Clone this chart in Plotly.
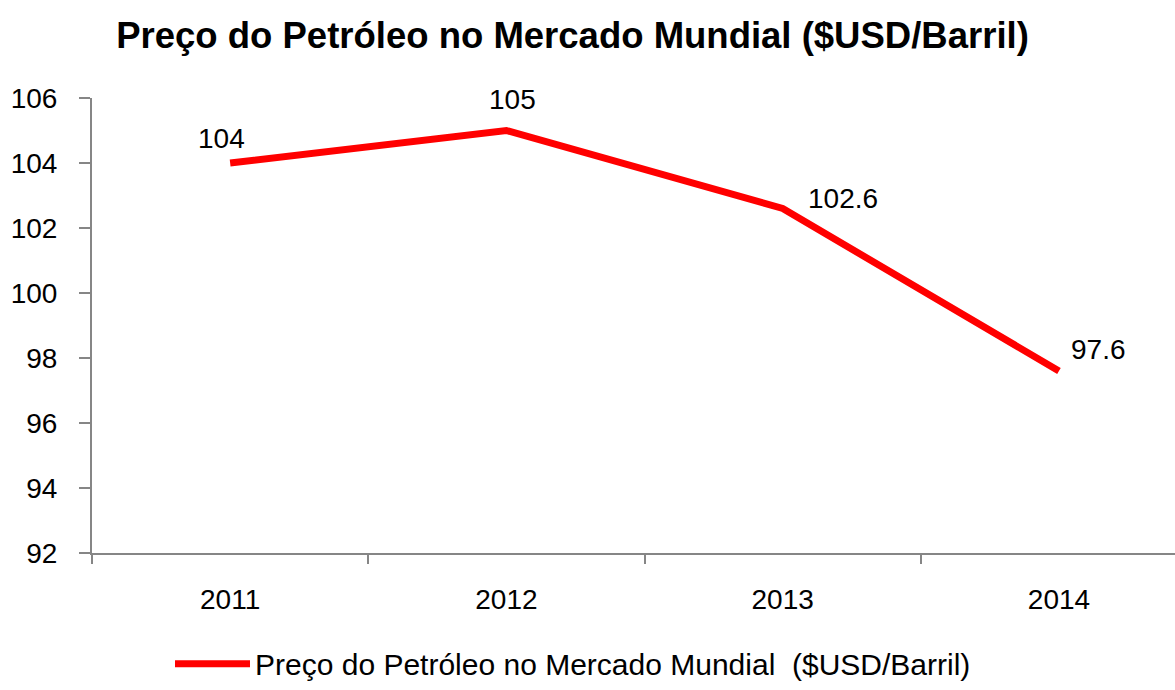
import plotly.graph_objects as go

years = ["2011", "2012", "2013", "2014"]
prices = [104, 105, 102.6, 97.6]
label_texts = ["104", "105", "102.6", "97.6"]
y_ticks = [92, 94, 96, 98, 100, 102, 104, 106]
series_name = "Preço do Petróleo no Mercado Mundial  ($USD/Barril)"
title_text = "Preço do Petróleo no Mercado Mundial ($USD/Barril)"

FONT = "Arial, Liberation Sans, sans-serif"
AXIS_COLOR = "#868686"

fig = go.Figure()
fig.add_trace(go.Scatter(
    x=years, y=prices, mode="lines", name=series_name,
    line=dict(color="#FF0000", width=7),
    hoverinfo="x+y",
))

# data labels (x given as category index), offsets in px
label_offsets = [(-9, 25), (6, 31), (60, 10), (40, 22)]
for i, (yv, t, (dx, dy)) in enumerate(zip(prices, label_texts, label_offsets)):
    fig.add_annotation(x=i, y=yv, xref="x", yref="y", text=t, showarrow=False,
                       xshift=dx, yshift=dy,
                       font=dict(family=FONT, size=28, color="#000000"))

W, H = 1175, 690
ml, mr, mt, mb = 92, 0, 98, 132

fig.update_layout(
    width=W, height=H,
    margin=dict(l=ml, r=mr, t=mt, b=mb, pad=0),
    paper_bgcolor="white", plot_bgcolor="white",
    font=dict(family=FONT, size=28, color="#000000"),
    title=dict(text="<b>" + title_text + "</b>", x=572.5 / W, xref="container",
               xanchor="center", y=1 - 35 / H, yref="container", yanchor="middle",
               font=dict(family=FONT, size=36.5, color="#000000")),
    showlegend=True,
    legend=dict(orientation="h", x=(170 - ml) / (W - ml - mr), xanchor="left",
                y=-(670 - (H - mb)) / (H - mt - mb), yanchor="middle",
                font=dict(family=FONT, size=30, color="#000000"),
                itemwidth=75, bgcolor="rgba(0,0,0,0)"),
    xaxis=dict(type="category", range=[-0.5, 3.42], tickson="boundaries",
               ticks="outside", ticklen=9, tickwidth=2, tickcolor=AXIS_COLOR,
               showline=True, linecolor=AXIS_COLOR, linewidth=2,
               showgrid=False, zeroline=False, ticklabelstandoff=20,
               tickfont=dict(family=FONT, size=28, color="#000000")),
    yaxis=dict(range=[92, 106], tickvals=y_ticks,
               ticks="outside", ticklen=11, tickwidth=2, tickcolor=AXIS_COLOR,
               showline=True, linecolor=AXIS_COLOR, linewidth=2,
               showgrid=False, zeroline=False, ticklabelstandoff=16,
               tickfont=dict(family=FONT, size=28, color="#000000")),
)

fig.write_html("out.html")
